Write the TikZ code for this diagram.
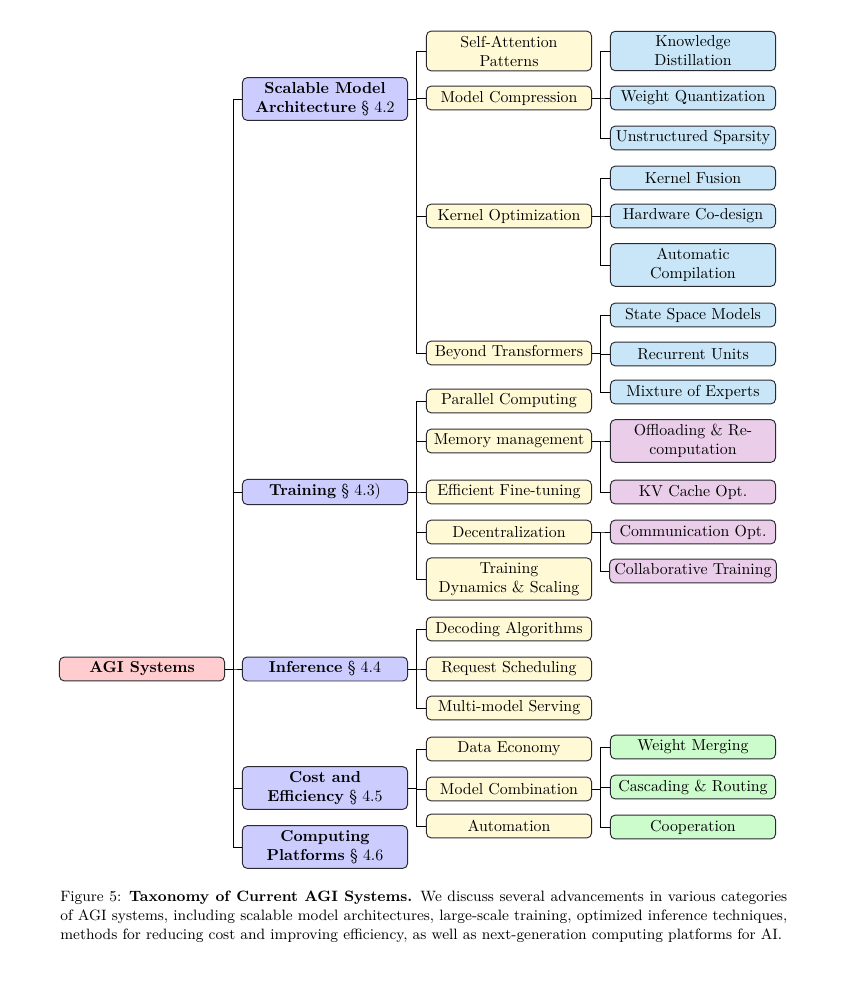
\documentclass[tikz,border=0pt]{standalone}
\usepackage{amsmath}
\usepackage{amssymb}
\usepackage{tikz}
\usetikzlibrary{positioning}
\usepackage{xcolor}

\definecolor{rootred}{HTML}{FFCCCF}
\definecolor{secblue}{HTML}{CCCCFF}
\definecolor{topicyellow}{HTML}{FFFAD5}
\definecolor{leafblue}{HTML}{C8E6F7}
\definecolor{leafpink}{HTML}{E9CDE9}
\definecolor{leafgreen}{HTML}{CCFBCC}
\definecolor{boxline}{HTML}{2A2A33}

\begin{document}
\begin{tikzpicture}[x=0.63pt,y=-0.63pt]
  \tikzset{
    every node/.style={align=center},
    box/.style={draw=boxline,line width=0.6pt,rounded corners=3pt,
      minimum width=104pt,minimum height=15pt,inner xsep=3pt,inner ysep=2.9pt},
    root/.style={box,fill=rootred,font=\bfseries},
    sect/.style={box,fill=secblue},
    topic/.style={box,fill=topicyellow},
    archleaf/.style={box,fill=leafblue},
    trainleaf/.style={box,fill=leafpink},
    costleaf/.style={box,fill=leafgreen},
    fork/.style={draw=black,line width=0.5pt}
  }
  \useasboundingbox (0,0) rectangle (860,983);

  % root and sections
  \node[root] (agi) at (142,669) {AGI Systems};
  \node[sect] (arch)  at (325,99)  {\textbf{Scalable Model}\\\textbf{Architecture} \S~4.2};
  \node[sect] (train) at (325,492) {\textbf{Training} \S~4.3)};
  \node[sect] (infer) at (325,669) {\textbf{Inference} \S~4.4};
  \node[sect] (cost)  at (325,788) {\textbf{Cost and}\\\textbf{Efficiency} \S~4.5};
  \node[sect] (comp)  at (325,847) {\textbf{Computing}\\\textbf{Platforms} \S~4.6};

  % topics
  \node[topic] (attn)   at (509,51)  {Self-Attention\\Patterns};
  \node[topic] (compr)  at (509,98)  {Model Compression};
  \node[topic] (kernel) at (509,216) {Kernel Optimization};
  \node[topic] (beyond) at (509,353) {Beyond Transformers};
  \node[topic] (par)    at (509,401) {Parallel Computing};
  \node[topic] (mem)    at (509,441) {Memory management};
  \node[topic] (fine)   at (509,492) {Efficient Fine-tuning};
  \node[topic] (decen)  at (509,532) {Decentralization};
  \node[topic] (dyn)    at (509,579) {Training\\Dynamics \& Scaling};
  \node[topic] (decode) at (509,629) {Decoding Algorithms};
  \node[topic] (sched)  at (509,669) {Request Scheduling};
  \node[topic] (multi)  at (509,708) {Multi-model Serving};
  \node[topic] (data)   at (509,749) {Data Economy};
  \node[topic] (combo)  at (509,789) {Model Combination};
  \node[topic] (auto)   at (509,826) {Automation};

  % leaves
  \node[archleaf] (distil) at (693,51)  {Knowledge\\Distillation};
  \node[archleaf] (quant)  at (693,98)  {Weight Quantization};
  \node[archleaf] (sparse) at (693,138) {Unstructured Sparsity};
  \node[archleaf] (fusion) at (693,178) {Kernel Fusion};
  \node[archleaf] (codes)  at (693,216) {Hardware Co-design};
  \node[archleaf] (compil) at (693,265) {Automatic\\Compilation};
  \node[archleaf] (ssm)    at (693,315) {State Space Models};
  \node[archleaf] (rnn)    at (693,354) {Recurrent Units};
  \node[archleaf] (moe)    at (693,392) {Mixture of Experts};
  \node[trainleaf] (offl)  at (693,441) {Offloading \& Re-\\computation};
  \node[trainleaf] (kv)    at (693,492) {KV Cache Opt.};
  \node[trainleaf] (comm)  at (693,532) {Communication Opt.};
  \node[trainleaf] (collab) at (693,571) {Collaborative Training};
  \node[costleaf] (merge)  at (693,747) {Weight Merging};
  \node[costleaf] (cascade) at (693,787) {Cascading \& Routing};
  \node[costleaf] (coop)   at (693,827) {Cooperation};

  % forked edges
  \foreach \p/\c in {agi/arch,agi/train,agi/infer,agi/cost,agi/comp,
      arch/attn,arch/compr,arch/kernel,arch/beyond,
      train/par,train/mem,train/fine,train/decen,train/dyn,
      infer/decode,infer/sched,infer/multi,
      cost/data,cost/combo,cost/auto}
    \draw[fork] (\p.east) -- ++(5pt,0) |- (\c.west);
  \foreach \p/\c in {compr/distil,compr/quant,compr/sparse,
      kernel/fusion,kernel/codes,kernel/compil,
      beyond/ssm,beyond/rnn,beyond/moe,
      mem/offl,mem/kv,decen/comm,decen/collab,
      combo/merge,combo/cascade,combo/coop}
    \draw[fork] (\p.east) -- ++(5pt,0) |- (\c.west);

  % caption
  \node[anchor=north west,text width=458pt,align=justify,inner sep=0pt,
    font=\fontsize{9.45}{11.9}\selectfont] (caption) at (60,891)
    {Figure 5: \textbf{Taxonomy of Current AGI Systems.} We discuss several advancements in various categories of AGI systems, including scalable model architectures, large-scale training, optimized inference techniques, methods for reducing cost and improving efficiency, as well as next-generation computing platforms for AI.};
\end{tikzpicture}
\end{document}
